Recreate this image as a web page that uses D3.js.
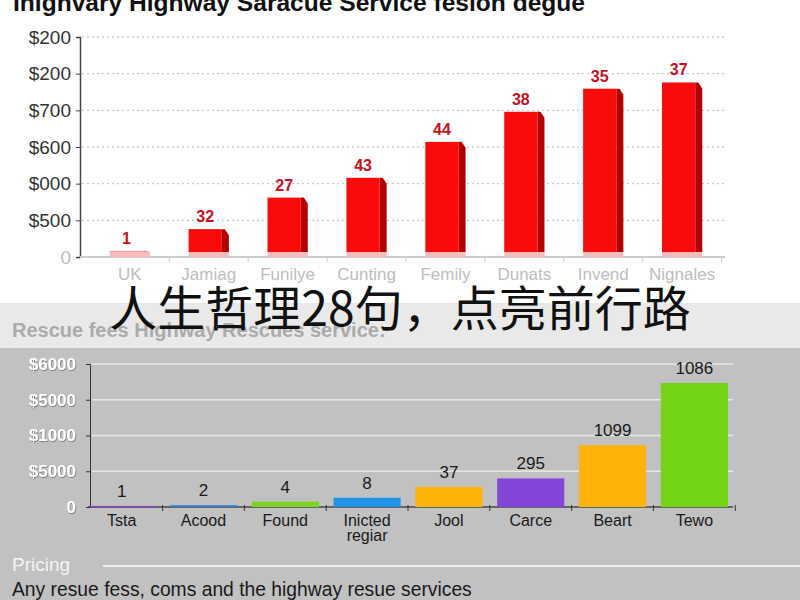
<!DOCTYPE html>
<html>
<head>
<meta charset="utf-8">
<script src="https://cdn.jsdelivr.net/npm/d3@7"></script>
<style>
  body { margin: 0; background: #fff; }
  svg { display: block; font-family: "Liberation Sans", Arial, sans-serif; }
</style>
</head>
<body>
<div class="chart"></div>
<script>
// Top chart data
var topCategories = ["UK", "Jamiag", "Funilye", "Cunting", "Femily", "Dunats", "Invend", "Nignales"];
var topValues = [17, 76, 162, 216, 314, 396, 459, 476];
var topLabels = ["1", "32", "27", "43", "44", "38", "35", "37"];
var topTicks = [0, 100, 200, 300, 400, 500, 600];
var topTickLabels = ["0", "$500", "$000", "$600", "$700", "$200", "$200"];

// Bottom chart data
var botCategories = [["Tsta"], ["Acood"], ["Found"], ["Inicted", "regiar"], ["Jool"], ["Carce"], ["Beart"], ["Tewo"]];
var botValues = [30, 50, 150, 260, 560, 800, 1730, 3470];
var botLabels = ["1", "2", "4", "8", "37", "295", "1099", "1086"];
var botColors = ["#8a3fd0", "#2f7fd8", "#7fd321", "#1f94e6", "#ffb20a", "#8446d8", "#ffb20a", "#74d416"];
var botTicks = [0, 1000, 2000, 3000, 4000];
var botTickLabels = ["0", "$5000", "$1000", "$5000", "$6000"];

var svgWidth = 800;
var svgHeight = 600;

var svg = d3.select(".chart")
  .append("svg")
  .attr("width", svgWidth)
  .attr("height", svgHeight);

// soft shadow for the white tick labels
var filt = svg.append("defs").append("filter").attr("id", "shadow");
filt.append("feDropShadow")
  .attr("dx", 0.6).attr("dy", 0.8)
  .attr("stdDeviation", 0.6)
  .attr("flood-color", "#666")
  .attr("flood-opacity", 0.9);

// Backgrounds
svg.append("rect").attr("x", 0).attr("y", 303).attr("width", 800).attr("height", 45).attr("fill", "#e9e9e9");
svg.append("rect").attr("x", 0).attr("y", 348).attr("width", 800).attr("height", 252).attr("fill", "#c1c1c1");

// Title
svg.append("text")
  .attr("x", 13)
  .attr("y", 11)
  .attr("font-size", "23px")
  .attr("font-weight", "bold")
  .attr("fill", "#111")
  .attr("textLength", 572)
  .attr("lengthAdjust", "spacingAndGlyphs")
  .text("Inighvary Highway Saracue Service fesion degue");

// ==============================
// Top chart
// ==============================
var x1 = d3.scaleBand()
  .domain(topCategories)
  .range([90, 722])
  .paddingInner(0.49)
  .paddingOuter(0.25);

var y1 = d3.scaleLinear()
  .domain([0, 600])
  .range([257, 37]);

// dotted gridlines
svg.append("g")
  .selectAll("line")
  .data(topTicks.slice(1))
  .enter()
  .append("line")
  .attr("x1", 82)
  .attr("x2", 725)
  .attr("y1", d => y1(d))
  .attr("y2", d => y1(d))
  .attr("stroke", "#bbb")
  .attr("stroke-dasharray", "2,3");

// y axis
var leftAxis1 = d3.axisLeft(y1)
  .tickValues(topTicks)
  .tickFormat((d, i) => topTickLabels[i])
  .tickSize(4);

var gy1 = svg.append("g")
  .attr("transform", "translate(80,0)")
  .call(leftAxis1);
gy1.select(".domain").attr("stroke", "#444").attr("stroke-width", 1.5);
gy1.selectAll(".tick line").attr("stroke", "#444");
gy1.selectAll(".tick text")
  .attr("x", -9)
  .attr("font-size", "19px")
  .attr("fill", "#333")
  .attr("font-family", "Liberation Sans, Arial, sans-serif");
gy1.selectAll(".tick").filter(d => d === 0).select("text").attr("fill", "#bbb");

// x axis baseline + boundary ticks
svg.append("line")
  .attr("x1", 80).attr("x2", 725)
  .attr("y1", 257).attr("y2", 257)
  .attr("stroke", "#ccc").attr("stroke-width", 2);

svg.append("g")
  .selectAll("line")
  .data(topCategories)
  .enter()
  .append("line")
  .attr("x1", d => x1(d) + x1.bandwidth() + x1.step() * x1.paddingInner() / 2)
  .attr("x2", d => x1(d) + x1.bandwidth() + x1.step() * x1.paddingInner() / 2)
  .attr("y1", 257).attr("y2", 262)
  .attr("stroke", "#ccc");

svg.append("g")
  .selectAll("text")
  .data(topCategories)
  .enter()
  .append("text")
  .attr("x", d => x1(d) + x1.bandwidth() / 2)
  .attr("y", 280)
  .attr("text-anchor", "middle")
  .attr("font-size", "17px")
  .attr("fill", "#bdbdbd")
  .text(d => d);

// 3d-ish red bars
var bw = x1.bandwidth();
var side = 7;
var bars1 = svg.append("g")
  .selectAll("g")
  .data(topValues)
  .enter()
  .append("g");

bars1.append("rect")
  .attr("x", (d, i) => x1(topCategories[i]))
  .attr("y", d => y1(d))
  .attr("width", bw - side)
  .attr("height", d => Math.max(0, y1(0) - 5 - y1(d)))
  .attr("fill", (d, i) => i === 0 ? "#f0a0a0" : "#fa0a0a");

bars1.append("path")
  .attr("d", (d, i) => {
    var x0 = x1(topCategories[i]) + bw - side;
    var t = y1(d);
    var b = y1(0) - 5;
    return "M" + x0 + "," + t + "L" + (x0 + 3) + "," + t + "L" + (x0 + side) + "," + Math.min(b, t + 6) +
      "L" + (x0 + side) + "," + b + "L" + x0 + "," + b + "Z";
  })
  .attr("fill", (d, i) => i === 0 ? "#e89090" : "#b30000");

bars1.append("rect")
  .attr("x", (d, i) => x1(topCategories[i]))
  .attr("y", y1(0) - 5)
  .attr("width", bw)
  .attr("height", 5)
  .attr("fill", "#f7bcbc");

bars1.append("text")
  .attr("x", (d, i) => x1(topCategories[i]) + (bw - side) / 2)
  .attr("y", d => y1(d) - 7)
  .attr("text-anchor", "middle")
  .attr("font-size", "16px")
  .attr("font-weight", "bold")
  .attr("fill", "#c8101e")
  .text((d, i) => topLabels[i]);

// ==============================
// Banner
// ==============================
svg.append("text")
  .attr("x", 12)
  .attr("y", 337)
  .attr("font-size", "20px")
  .attr("font-weight", "bold")
  .attr("fill", "#ababab")
  .text("Rescue fees Highway Rescues service:");

svg.append("text")
  .attr("x", 400)
  .attr("y", 326)
  .attr("text-anchor", "middle")
  .attr("font-size", "48px")
  .attr("font-family", "Noto Sans CJK SC, sans-serif")
  .attr("fill", "#111")
  .text("人生哲理28句，点亮前行路");

// ==============================
// Bottom chart
// ==============================
var x2 = d3.scaleBand()
  .domain(d3.range(botCategories.length))
  .range([84, 732])
  .paddingInner(0.18)
  .paddingOuter(0.05);

var y2 = d3.scaleLinear()
  .domain([0, 4000])
  .range([507, 364]);

svg.append("g")
  .selectAll("line")
  .data(botTicks.slice(1))
  .enter()
  .append("line")
  .attr("x1", 92)
  .attr("x2", 733)
  .attr("y1", d => y2(d))
  .attr("y2", d => y2(d))
  .attr("stroke", "#e6e6e6")
  .attr("stroke-width", 1.5);

var leftAxis2 = d3.axisLeft(y2)
  .tickValues(botTicks)
  .tickFormat((d, i) => botTickLabels[i])
  .tickSize(4);

var gy2 = svg.append("g")
  .attr("transform", "translate(90,0)")
  .call(leftAxis2);
gy2.select(".domain").attr("stroke", "#333");
gy2.selectAll(".tick line").attr("stroke", "#333");
gy2.selectAll(".tick text")
  .attr("x", -14)
  .attr("font-size", "17px")
  .attr("font-weight", "bold")
  .attr("fill", "#ffffff")
  .attr("filter", "url(#shadow)")
  .attr("font-family", "Liberation Sans, Arial, sans-serif");

svg.append("line")
  .attr("x1", 90).attr("x2", 733)
  .attr("y1", 507).attr("y2", 507)
  .attr("stroke", "#444").attr("stroke-width", 1.5);

svg.append("g")
  .selectAll("line")
  .data(d3.range(botCategories.length))
  .enter()
  .append("line")
  .attr("x1", d => x2(d) + x2.bandwidth() + x2.step() * x2.paddingInner() / 2)
  .attr("x2", d => x2(d) + x2.bandwidth() + x2.step() * x2.paddingInner() / 2)
  .attr("y1", 505).attr("y2", 511)
  .attr("stroke", "#333");

svg.append("g")
  .selectAll("rect")
  .data(botValues)
  .enter()
  .append("rect")
  .attr("x", (d, i) => x2(i))
  .attr("y", d => y2(d))
  .attr("width", x2.bandwidth())
  .attr("height", d => y2(0) - y2(d))
  .attr("fill", (d, i) => botColors[i]);

svg.append("g")
  .selectAll("text")
  .data(botValues)
  .enter()
  .append("text")
  .attr("x", (d, i) => x2(i) + x2.bandwidth() / 2)
  .attr("y", d => Math.min(y2(d) - 9, 498))
  .attr("text-anchor", "middle")
  .attr("font-size", "17px")
  .attr("fill", "#1a1a1a")
  .text((d, i) => botLabels[i]);

var catText = svg.append("g")
  .selectAll("text")
  .data(botCategories)
  .enter()
  .append("text")
  .attr("x", (d, i) => x2(i) + x2.bandwidth() / 2)
  .attr("y", 526)
  .attr("text-anchor", "middle")
  .attr("font-size", "16px")
  .attr("fill", "#1a1a1a");

catText.selectAll("tspan")
  .data(d => d)
  .enter()
  .append("tspan")
  .attr("x", function() { return d3.select(this.parentNode).attr("x"); })
  .attr("dy", (d, i) => i === 0 ? 0 : 15)
  .text(d => d);

// Footer
svg.append("text")
  .attr("x", 12)
  .attr("y", 571)
  .attr("font-size", "19px")
  .attr("fill", "#f4f4f4")
  .text("Pricing");

svg.append("line")
  .attr("x1", 103).attr("x2", 800)
  .attr("y1", 566).attr("y2", 566)
  .attr("stroke", "#efefef").attr("stroke-width", 2);

svg.append("text")
  .attr("x", 12)
  .attr("y", 596)
  .attr("font-size", "19.3px")
  .attr("fill", "#1a1a1a")
  .text("Any resue fess, coms and the highway resue services");
</script>
</body>
</html>
